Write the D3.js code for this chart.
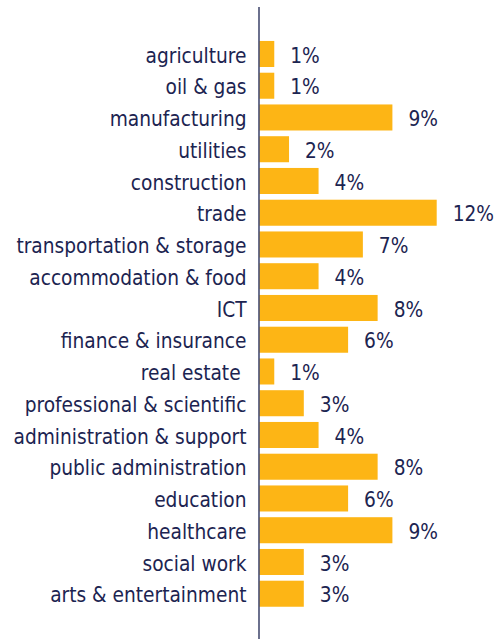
<!DOCTYPE html>
<html><head><meta charset="utf-8">
<script src="https://cdn.jsdelivr.net/npm/d3@7"></script>
<style>html,body{margin:0;padding:0;background:#fff;}
text{font-stretch:condensed;}</style>
</head><body>
<svg id="chart" width="498" height="639"></svg>
<script>
const categories = ["agriculture","oil & gas","manufacturing","utilities","construction","trade","transportation & storage","accommodation & food","ICT","finance & insurance","real estate ","professional & scientific","administration & support","public administration","education","healthcare","social work","arts & entertainment"];
const values = [1,1,9,2,4,12,7,4,8,6,1,3,4,8,6,9,3,3];
const labels = values.map(v => v + "%");

const svg = d3.select("#chart");
const x = d3.scaleLinear().domain([0, 12]).range([259.5, 436.7]);
const y = d3.scaleBand().domain(categories).range([38.1, 609.6]).paddingInner(0.18).paddingOuter(0.09);
const textColor = "#1c2451";
const barColor = "#fdb515";
const font = "'DejaVu Sans Condensed', 'DejaVu Sans', sans-serif";

svg.selectAll("rect.bar").data(values).join("rect")
  .attr("class","bar")
  .attr("x", x(0))
  .attr("y", (d,i) => y(categories[i]))
  .attr("width", d => x(d) - x(0))
  .attr("height", y.bandwidth())
  .attr("fill", barColor);

svg.selectAll("text.val").data(values).join("text")
  .attr("class","val")
  .attr("x", d => x(d) + 16)
  .attr("y", (d,i) => y(categories[i]) + y.bandwidth()/2)
  .attr("dy","0.42em")
  .attr("font-family", font).attr("font-size", 20.7)
  .attr("fill", textColor)
  .text((d,i) => labels[i]);

svg.selectAll("text.cat").data(categories).join("text")
  .attr("class","cat")
  .attr("x", 246.5)
  .attr("y", d => y(d) + y.bandwidth()/2)
  .attr("dy","0.42em")
  .attr("text-anchor","end")
  .attr("font-family", font).attr("font-size", 20.7)
  .attr("fill", textColor)
  .style("white-space","pre")
  .text(d => d);

svg.append("line")
  .attr("x1", 259).attr("x2", 259)
  .attr("y1", 7).attr("y2", 639)
  .attr("stroke", "#1c2451").attr("stroke-width", 1.3);
</script>
</body></html>
